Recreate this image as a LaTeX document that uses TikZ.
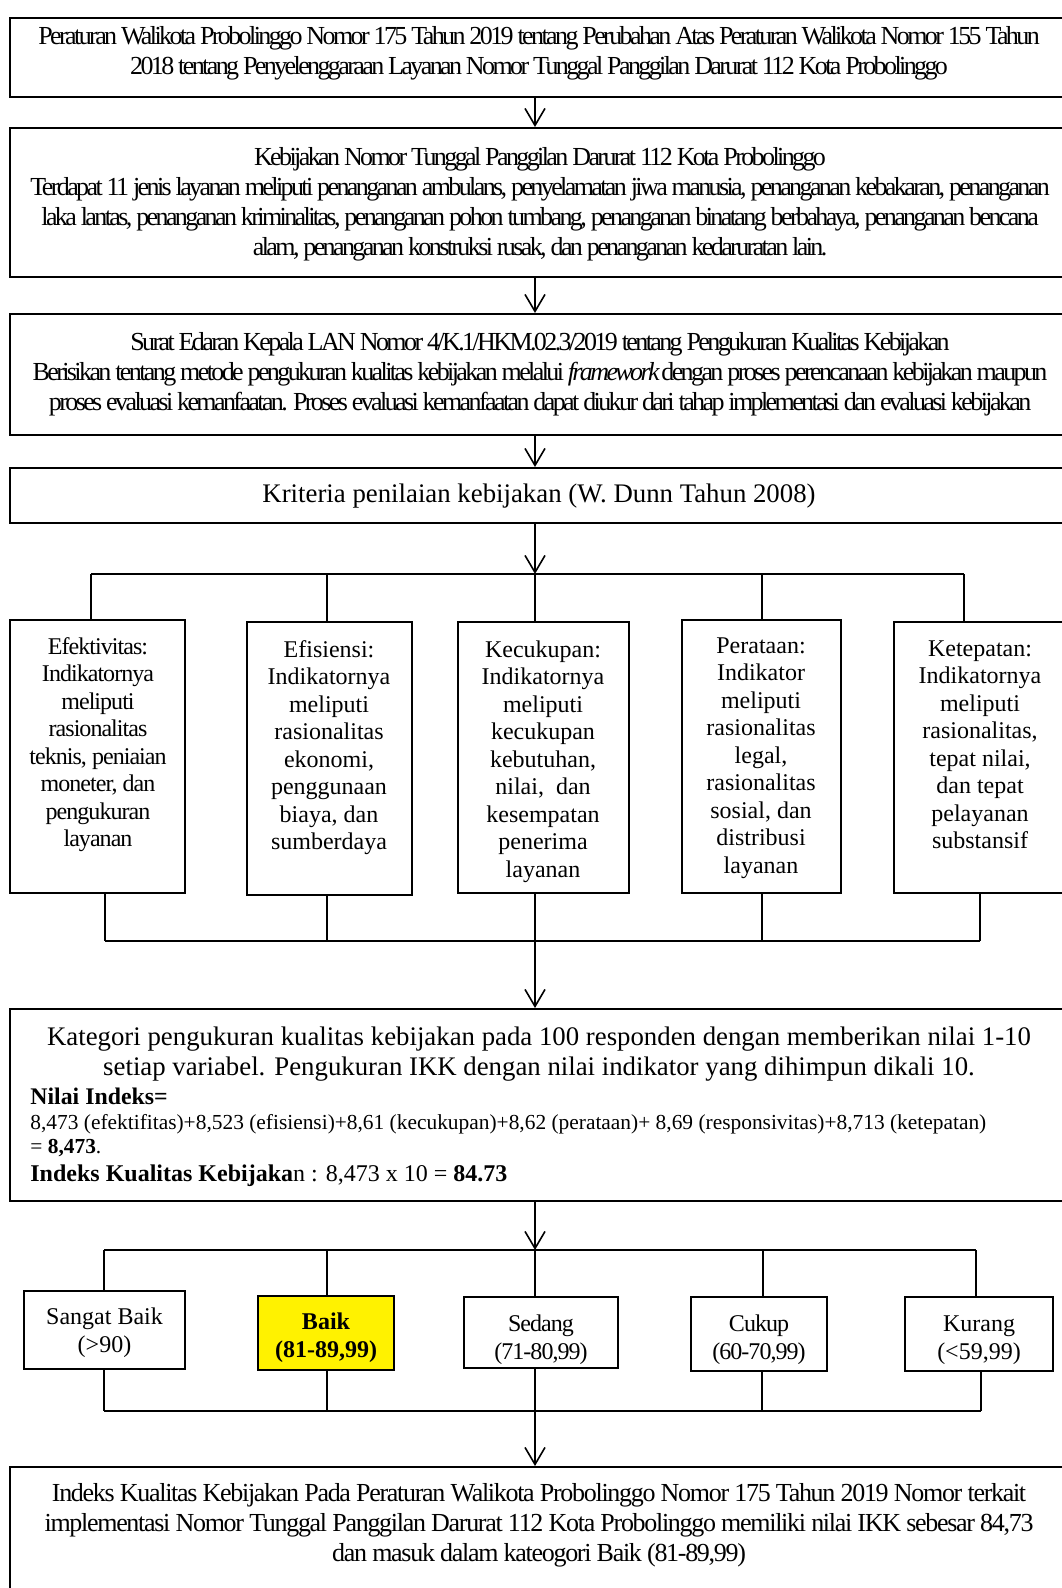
\documentclass[tikz,border=0pt]{standalone}
\usepackage{fontspec}
\setmainfont{Liberation Serif}
\newfontfamily\condfont[LetterSpace=-10]{Liberation Serif}
\newfontfamily\semicond[LetterSpace=-4]{Liberation Serif}
\newfontfamily\semicondb[LetterSpace=-5]{Liberation Serif}
\usetikzlibrary{arrows.meta,fit}
\begin{document}
\begin{tikzpicture}[x=0.5pt,y=-0.5pt,
  boxst/.style={draw, line width=1pt, inner sep=0pt},
  conn/.style={line width=0.8pt},
  arr/.style={line width=0.8pt,-{Straight Barb[length=8.5pt,width=10pt,line width=0.8pt]}},
  toptext/.style={font=\condfont\fontsize{13}{15}\selectfont, align=center, inner sep=0pt},
  crit/.style={font=\fontsize{12}{13.75}\selectfont, align=center, inner sep=0pt, anchor=north},
  cat/.style={font=\fontsize{12}{14}\selectfont, align=center, inner sep=0pt},
  plain/.style={inner sep=0pt, anchor=west}
]
\useasboundingbox (0,0) rectangle (1061,1588);

% ---- top chain of boxes
\node[boxst, fit={(10,18) (1070,97)}] (k1) {};
\node[toptext] (k1t) at (539,53) {Peraturan Walikota Probolinggo Nomor 175 Tahun 2019 tentang Perubahan Atas Peraturan Walikota Nomor 155 Tahun\\2018 tentang Penyelenggaraan Layanan Nomor Tunggal Panggilan Darurat 112 Kota Probolinggo};

\node[boxst, fit={(10,128) (1070,277)}] (k2) {};
\node[toptext] (k2t) at (540,204.5) {Kebijakan Nomor Tunggal Panggilan Darurat 112 Kota Probolinggo\\Terdapat 11 jenis layanan meliputi penanganan ambulans, penyelamatan jiwa manusia, penanganan kebakaran, penanganan\\laka lantas, penanganan kriminalitas, penanganan pohon tumbang, penanganan binatang berbahaya, penanganan bencana\\alam, penanganan konstruksi rusak, dan penanganan kedaruratan lain.};

\node[boxst, fit={(10,314) (1070,435)}] (k3) {};
\node[toptext] (k3t) at (540,374.5) {Surat Edaran Kepala LAN Nomor 4/K.1/HKM.02.3/2019 tentang Pengukuran Kualitas Kebijakan\\Berisikan tentang metode pengukuran kualitas kebijakan melalui \textit{framework} dengan proses perencanaan kebijakan maupun\\proses evaluasi kemanfaatan. Proses evaluasi kemanfaatan dapat diukur dari tahap implementasi dan evaluasi kebijakan};

\node[boxst, fit={(10,468) (1070,523)}] (k4) {};
\node[font=\fontsize{13.4}{15}\selectfont, inner sep=0pt] (k4t) at (539,496) {Kriteria penilaian kebijakan (W. Dunn Tahun 2008)};

\coordinate (ax) at (535,0);
\draw[arr] (k1.south -| ax) -- (k2.north -| ax);
\draw[arr] (k2.south -| ax) -- (k3.north -| ax);
\draw[arr] (k3.south -| ax) -- (k4.north -| ax);

% ---- criteria row
\node[boxst, fit={(10,620) (185,893)}] (c1) {};
\node[boxst, fit={(247,622) (412,895)}] (c2) {};
\node[boxst, fit={(458,622) (629,893)}] (c3) {};
\node[boxst, fit={(682,620) (841,893)}] (c4) {};
\node[boxst, fit={(894,622) (1066,893)}] (c5) {};

\node[crit, font=\semicond\fontsize{12}{13.75}\selectfont] (c1t) at (98,637) {Efektivitas:\\Indikatornya\\meliputi\\rasionalitas\\teknis, peniaian\\moneter, dan\\pengukuran\\layanan};
\node[crit] (c2t) at (329,640) {Efisiensi:\\Indikatornya\\meliputi\\rasionalitas\\ekonomi,\\penggunaan\\biaya, dan\\sumberdaya};
\node[crit] (c3t) at (543,640) {Kecukupan:\\Indikatornya\\meliputi\\kecukupan\\kebutuhan,\\nilai,\ \ dan\\kesempatan\\penerima\\layanan};
\node[crit] (c4t) at (761,637) {Perataan:\\Indikator\\meliputi\\rasionalitas\\legal,\\rasionalitas\\sosial, dan\\distribusi\\layanan};
\node[crit] (c5t) at (980,640) {Ketepatan:\\Indikatornya\\meliputi\\rasionalitas,\\tepat nilai,\\dan tepat\\pelayanan\\substansif};

\coordinate (u1) at (91,574);
\coordinate (u2) at (327,574);
\coordinate (u3) at (535,574);
\coordinate (u4) at (762,574);
\coordinate (u5) at (964,574);
\draw[arr] (k4.south -| u3) -- (u3);
\draw[conn] (u1) -- (u5);
\draw[conn] (u1) -- (u1 |- c1.north);
\draw[conn] (u2) -- (u2 |- c2.north);
\draw[conn] (u3) -- (u3 |- c3.north);
\draw[conn] (u4) -- (u4 |- c4.north);
\draw[conn] (u5) -- (u5 |- c5.north);

\coordinate (d1) at (105,941);
\coordinate (d2) at (327,941);
\coordinate (d3) at (535,941);
\coordinate (d4) at (762,941);
\coordinate (d5) at (980,941);
\draw[conn] (d1) -- (d5);
\draw[conn] (d1 |- c1.south) -- (d1);
\draw[conn] (d2 |- c2.south) -- (d2);
\draw[conn] (d3 |- c3.south) -- (d3);
\draw[conn] (d4 |- c4.south) -- (d4);
\draw[conn] (d5 |- c5.south) -- (d5);

% ---- measurement box
\node[boxst, fit={(10,1009) (1070,1201)}] (k6) {};
\draw[arr] (d3) -- (d3 |- k6.north);
\node[font=\fontsize{13.4}{15}\selectfont, align=center, inner sep=0pt] (k6a) at (539,1054) {Kategori pengukuran kualitas kebijakan pada 100 responden dengan memberikan nilai 1-10\\setiap variabel. Pengukuran IKK dengan nilai indikator yang dihimpun dikali 10.};
\node[plain, font=\bfseries\fontsize{11.9}{13}\selectfont] (k6b) at (30,1096) {Nilai Indeks=};
\node[plain, font=\fontsize{10.7}{12}\selectfont] (k6c) at (30,1124) {8,473 (efektifitas)+8,523 (efisiensi)+8,61 (kecukupan)+8,62 (perataan)+ 8,69 (responsivitas)+8,713 (ketepatan)};
\node[plain, font=\fontsize{10.7}{12}\selectfont] (k6d) at (30,1148) {= \textbf{8,473}.};
\node[plain, font=\fontsize{12}{14}\selectfont] (k6e) at (30,1175.5) {\textbf{Indeks Kualitas Kebijaka}n : 8,473 x 10 = \textbf{84.73}};

% ---- category row
\node[boxst, fit={(24,1291) (185,1369)}] (g1) {};
\node[boxst, fill=yellow, fit={(258,1296) (394,1370)}] (g2) {};
\node[boxst, fit={(464,1297) (618,1368)}] (g3) {};
\node[boxst, fit={(691,1297) (827,1371)}] (g4) {};
\node[boxst, fit={(905,1297) (1053,1371)}] (g5) {};
\node[cat] (g1t) at (104.5,1333) {Sangat Baik\\(>90)};
\node[cat, font=\bfseries\fontsize{12}{14}\selectfont] (g2t) at (326,1338) {Baik\\(81-89,99)};
\node[cat, font=\semicond\fontsize{12}{14}\selectfont] (g3t) at (541,1340) {Sedang\\(71-80,99)};
\node[cat, font=\semicond\fontsize{12}{14}\selectfont] (g4t) at (759,1340) {Cukup\\(60-70,99)};
\node[cat] (g5t) at (979,1340) {Kurang\\(<59,99)};

\coordinate (v1) at (104,1250);
\coordinate (v2) at (327,1250);
\coordinate (v3) at (535,1250);
\coordinate (v4) at (763,1250);
\coordinate (v5) at (976,1250);
\draw[arr] (k6.south -| v3) -- (v3);
\draw[conn] (v1) -- (v5);
\draw[conn] (v1) -- (v1 |- g1.north);
\draw[conn] (v2) -- (v2 |- g2.north);
\draw[conn] (v3) -- (v3 |- g3.north);
\draw[conn] (v4) -- (v4 |- g4.north);
\draw[conn] (v5) -- (v5 |- g5.north);

\coordinate (w1) at (104,1411);
\coordinate (w2) at (327,1411);
\coordinate (w3) at (535,1411);
\coordinate (w4) at (762,1411);
\coordinate (w5) at (981,1411);
\draw[conn] (w1) -- (w5);
\draw[conn] (w1 |- g1.south) -- (w1);
\draw[conn] (w2 |- g2.south) -- (w2);
\draw[conn] (w3 |- g3.south) -- (w3);
\draw[conn] (w4 |- g4.south) -- (w4);
\draw[conn] (w5 |- g5.south) -- (w5);

% ---- conclusion box
\node[boxst, fit={(10,1467) (1070,1620)}] (k7) {};
\draw[arr] (w3) -- (w3 |- k7.north);
\node[font=\semicondb\fontsize{13}{15}\selectfont, align=center, inner sep=0pt] (k7t) at (539,1525) {Indeks Kualitas Kebijakan Pada Peraturan Walikota Probolinggo Nomor 175 Tahun 2019 Nomor terkait\\implementasi Nomor Tunggal Panggilan Darurat 112 Kota Probolinggo memiliki nilai IKK sebesar 84,73\\dan masuk dalam kateogori Baik (81-89,99)};
\end{tikzpicture}
\end{document}
